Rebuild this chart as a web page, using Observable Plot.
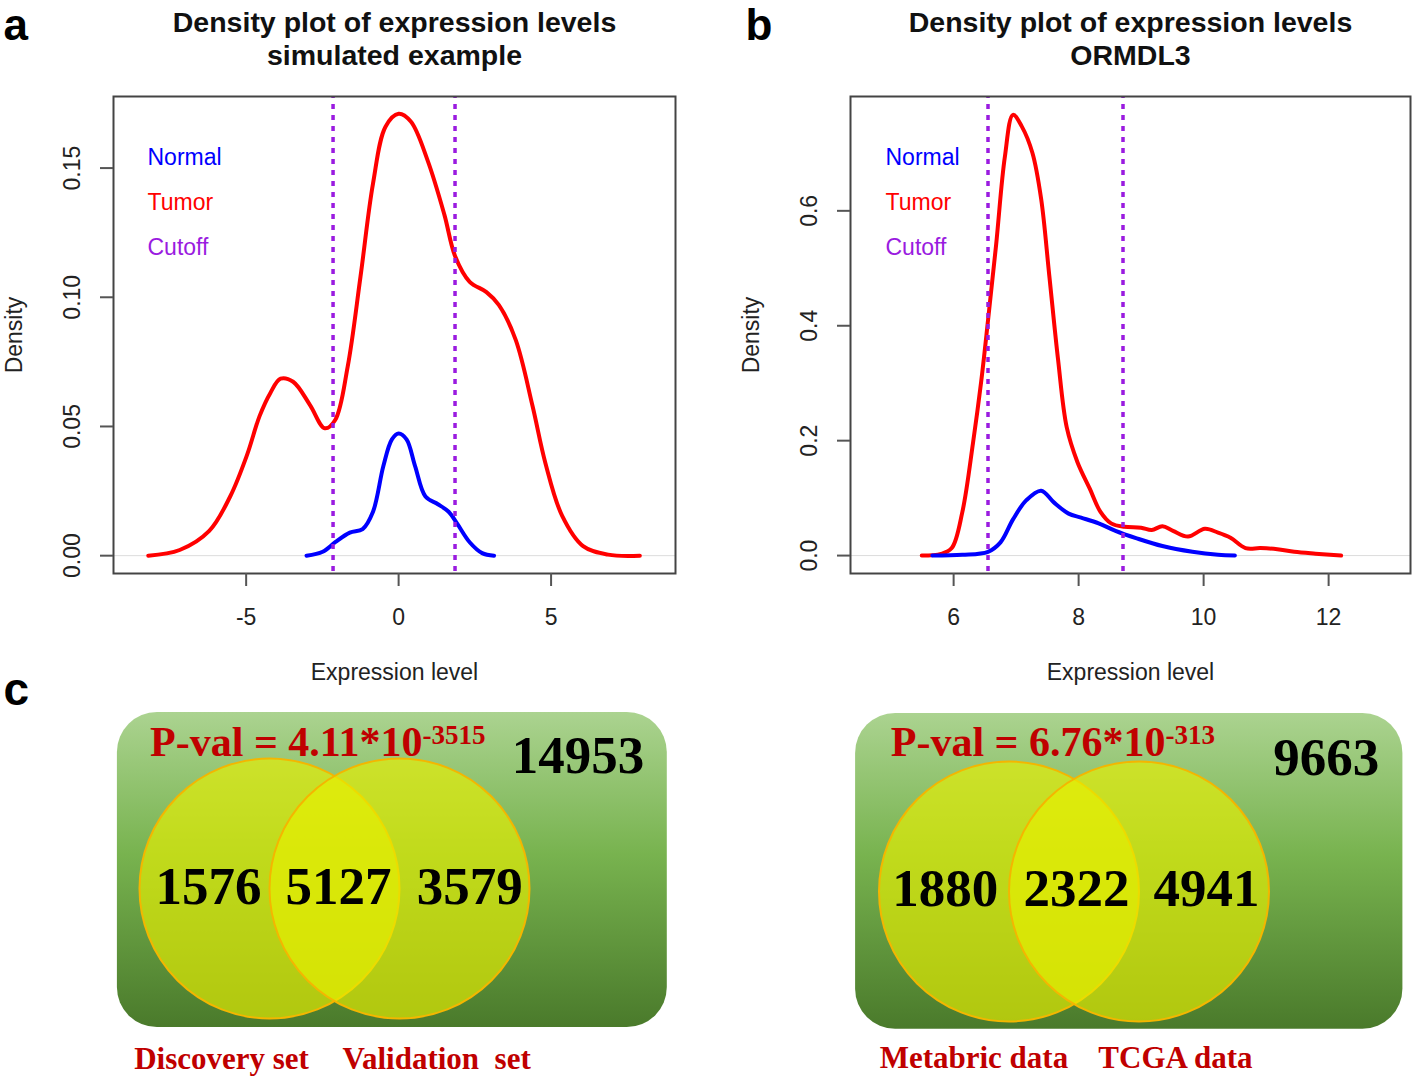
<!DOCTYPE html>
<html>
<head>
<meta charset="utf-8">
<script src="https://cdn.jsdelivr.net/npm/d3@7"></script>
<script src="https://cdn.jsdelivr.net/npm/@observablehq/plot@0.6"></script>
<style>
  html, body { margin: 0; padding: 0; background: #ffffff; }
  #fig { position: relative; width: 1418px; height: 1077px; overflow: hidden; background: #ffffff; }
  #fig svg { position: absolute; }
  #fig svg text { white-space: pre; }
</style>
</head>
<body>
<div id="fig"></div>
<script>
// ---------------- Data ----------------
// Panel a: simulated example
const simTumorX = [-8.21,-7.18,-6.21,-5.52,-4.97,-4.56,-4.21,-3.87,-3.46,-2.91,-2.42,-2.08,-1.67,-1.25,-0.84,-0.43,0,0.40,0.95,1.50,1.85,2.33,2.88,3.29,3.84,4.39,4.81,5.36,6.05,6.87,7.91];
const simTumorY = [0,0.0022,0.0096,0.023,0.039,0.054,0.0629,0.0685,0.0673,0.0584,0.0493,0.0525,0.0732,0.108,0.144,0.166,0.171,0.168,0.153,0.132,0.116,0.106,0.102,0.097,0.0835,0.058,0.036,0.0155,0.0037,0.0004,0];
const simNormalX = [-3.02,-2.49,-2.08,-1.60,-1.18,-0.84,-0.50,-0.22,0,0.26,0.54,0.88,1.29,1.64,1.91,2.33,2.74,3.13];
const simNormalY = [0,0.0015,0.0052,0.0089,0.0103,0.017,0.0347,0.045,0.0473,0.045,0.0347,0.0229,0.0199,0.017,0.0126,0.0052,0.001,0];
const simCutoffs = [-2.15, 1.85];
const simXTicks = [-5, 0, 5];
const simYTicks = [0, 0.05, 0.10, 0.15];

// Panel b: ORMDL3
const ormTumorX = [5.49,5.80,5.97,6.14,6.31,6.44,6.55,6.68,6.82,6.95,7.09,7.26,7.40,7.53,7.67,7.81,7.98,8.18,8.35,8.52,8.73,9.00,9.17,9.34,9.51,9.75,10.02,10.23,10.43,10.67,10.91,11.18,11.45,11.79,12.2];
const ormTumorY = [0,0.003,0.013,0.076,0.196,0.302,0.409,0.541,0.694,0.767,0.747,0.701,0.621,0.488,0.342,0.223,0.163,0.116,0.076,0.056,0.050,0.0485,0.0445,0.051,0.043,0.033,0.0465,0.040,0.031,0.013,0.013,0.011,0.0066,0.0033,0];
const ormNormalX = [5.66,6.14,6.55,6.75,6.95,7.16,7.40,7.60,7.84,8.04,8.32,8.59,8.93,9.34,9.82,10.23,10.50];
const ormNormalY = [0,0.0013,0.0066,0.023,0.063,0.096,0.113,0.093,0.073,0.066,0.056,0.043,0.030,0.0166,0.0066,0.0013,0];
const ormCutoffs = [6.55, 8.71];
const ormXTicks = [6, 8, 10, 12];
const ormYTicks = [0, 0.2, 0.4, 0.6];

const legendLabels = ["Normal", "Tumor", "Cutoff"];
const titleLine1 = "Density plot of expression levels";
const titleA2 = "simulated example";
const titleB2 = "ORMDL3";

// Panel c: Venn diagrams
const vennACounts = [1576, 5127, 3579];
const vennAOutside = 14953;
const vennAPval = ["P-val = 4.11*10", "-3515"];
const vennASets = ["Discovery set", "Validation  set"];

const vennBCounts = [1880, 2322, 4941];
const vennBOutside = 9663;
const vennBPval = ["P-val = 6.76*10", "-313"];
const vennBSets = ["Metabric data", "TCGA data"];

// ---------------- Styles ----------------
const SANS = "'Liberation Sans', Arial, Helvetica, sans-serif";
const SERIF = "'Liberation Serif', 'Times New Roman', serif";
const RED = "#ff0000", BLUE = "#0000ff", PURPLE = "#9a1be0";
const DARKRED = "#c00000";
const fig = document.getElementById("fig");

function place(svg, left, top) {
  svg.style.left = left + "px";
  svg.style.top = top + "px";
  fig.appendChild(svg);
}

function density(o) {
  const tumor = o.tumorX.map((x, i) => ({x, y: o.tumorY[i]}));
  const normal = o.normalX.map((x, i) => ({x, y: o.normalY[i]}));
  const fmt = d3.format(o.yFmt);
  const legendColors = [BLUE, RED, PURPLE];
  return Plot.plot({
    width: o.width, height: 700,
    marginTop: 96, marginBottom: 127, marginLeft: o.ml, marginRight: o.mr,
    style: {fontFamily: SANS, background: "none", overflow: "visible", color: "#222"},
    x: {domain: o.xDomain},
    y: {domain: o.yDomain},
    marks: [
      Plot.ruleY([0], {stroke: "#dcdcdc", strokeWidth: 1}),
      Plot.line(tumor, {x: "x", y: "y", stroke: RED, strokeWidth: 4, curve: "catmull-rom"}),
      Plot.line(normal, {x: "x", y: "y", stroke: BLUE, strokeWidth: 4, curve: "catmull-rom"}),
      Plot.ruleX(o.cutoffs, {stroke: PURPLE, strokeWidth: 3.5, strokeDasharray: "5,6", strokeDashoffset: -8}),
      Plot.frame({stroke: "#444", strokeWidth: 2}),
      Plot.axisX({ticks: o.xTicks, tickSize: 13, tickPadding: 22, fontSize: 23, label: null, stroke: "#555", strokeWidth: 2, tickFormat: d => String(d)}),
      Plot.axisY({ticks: o.yTicks, tickSize: 13, tickFormat: () => "", label: null, stroke: "#555", strokeWidth: 2}),
      Plot.text(o.yTicks, {y: d => d, frameAnchor: "left", dx: -40.5, rotate: -90, text: d => fmt(d), fontSize: 23, lineAnchor: "middle", textAnchor: "middle"}),
      Plot.text(["Density"], {frameAnchor: "left", dx: -99, rotate: -90, text: d => d, fontSize: 23, lineAnchor: "middle", textAnchor: "middle"}),
      Plot.text(["Expression level"], {frameAnchor: "bottom", dy: 99, text: d => d, fontSize: 23, lineAnchor: "middle", textAnchor: "middle"}),
      Plot.text([titleLine1], {frameAnchor: "top", dy: -65, text: d => d, fontSize: 28.5, fontWeight: "bold", lineAnchor: "bottom", textAnchor: "middle", fill: "#111"}),
      Plot.text([o.title2], {frameAnchor: "top", dy: -32, text: d => d, fontSize: 28.5, fontWeight: "bold", lineAnchor: "bottom", textAnchor: "middle", fill: "#111"}),
      ...legendLabels.map((t, i) => Plot.text([t], {frameAnchor: "top-left", dx: o.legendDx, dy: 68 + 45 * i, text: d => d, fontSize: 23, fill: legendColors[i], lineAnchor: "bottom", textAnchor: "start"})),
      Plot.text([o.letter], {frameAnchor: "top-left", dx: o.letterDx, dy: -57, text: d => d, fontSize: 44, fontWeight: "bold", lineAnchor: "bottom", textAnchor: "start", fill: "#000"})
    ]
  });
}

function venn(o) {
  const U = 130;
  const circles = [{cx: -0.5, cy: 0}, {cx: 0.5, cy: 0}];
  const counts = o.counts.map((v, i) => ({v, x: o.countX[i], y: o.countY}));
  const sets = o.sets.map((s, i) => ({s, x: o.setX[i], y: o.setY}));
  const marks = [
    Plot.rect([o.box], {x1: "x1", x2: "x2", y1: "y1", y2: "y2", rx: 40, ry: 40, fill: `url(#${o.id})`}),
    Plot.dot(circles, {x: "cx", y: "cy", r: U, fill: "#e8f000", fillOpacity: 0.65, stroke: "#f4b600", strokeWidth: 2}),
    Plot.text(counts, {x: "x", y: "y", text: d => String(d.v), fontFamily: SERIF, fontWeight: "bold", fontSize: 53, lineAnchor: "bottom", textAnchor: "middle", fill: "#000"}),
    Plot.text([o.outside], {x: o.outX, y: o.outY, text: d => String(d), fontFamily: SERIF, fontWeight: "bold", fontSize: 53, lineAnchor: "bottom", textAnchor: "middle", fill: "#000"}),
    Plot.text([o.pval[0]], {x: o.pX, y: o.pY, text: d => d, fontFamily: SERIF, fontWeight: "bold", fontSize: 42, lineAnchor: "bottom", textAnchor: "end", fill: DARKRED}),
    Plot.text([o.pval[1]], {x: o.pX, y: o.supY, text: d => d, fontFamily: SERIF, fontWeight: "bold", fontSize: 27, lineAnchor: "bottom", textAnchor: "start", fill: DARKRED}),
    Plot.text(sets, {x: "x", y: "y", text: "s", fontFamily: SERIF, fontWeight: "bold", fontSize: 31, lineAnchor: "bottom", textAnchor: "middle", fill: DARKRED})
  ];
  if (o.letter) marks.push(Plot.text([o.letter], {frameAnchor: "top-left", dx: 3, dy: 64, text: d => d, fontFamily: SANS, fontSize: 46, fontWeight: "bold", lineAnchor: "bottom", textAnchor: "start", fill: "#000"}));
  const svg = Plot.plot({
    width: 709, height: 437, margin: 0,
    style: {background: "none", overflow: "visible"},
    x: {domain: [-1, 1], range: [o.ox - U, o.ox + U], axis: null},
    y: {domain: [-1, 1], range: [o.oy - U, o.oy + U], axis: null},
    marks
  });
  d3.select(svg).insert("defs", ":first-child").html(
    `<linearGradient id="${o.id}" x1="0" y1="0" x2="0" y2="1">
       <stop offset="0" stop-color="#abd390"/>
       <stop offset="0.45" stop-color="#78b34f"/>
       <stop offset="1" stop-color="#4a7a2b"/>
     </linearGradient>`);
  return svg;
}

// ---------------- Render ----------------
place(density({
  tumorX: simTumorX, tumorY: simTumorY, normalX: simNormalX, normalY: simNormalY,
  cutoffs: simCutoffs, xTicks: simXTicks, yTicks: simYTicks, yFmt: ".2f",
  xDomain: [-9.35, 9.08], yDomain: [-0.0069, 0.1777],
  width: 705, ml: 113, mr: 30, legendDx: 34, letterDx: -110, letter: "a", title2: titleA2
}), 0, 0);

place(density({
  tumorX: ormTumorX, tumorY: ormTumorY, normalX: ormNormalX, normalY: ormNormalY,
  cutoffs: ormCutoffs, xTicks: ormXTicks, yTicks: ormYTicks, yFmt: ".1f",
  xDomain: [4.35, 13.31], yDomain: [-0.0312, 0.799],
  width: 713, ml: 145, mr: 8, legendDx: 35, letterDx: -105, letter: "b", title2: titleB2
}), 705, 0);

place(venn({
  id: "gradA", ox: 334, oy: 248, letter: "c",
  box: {x1: -1.67, x2: 2.56, y1: -1.354, y2: 1.07},
  counts: vennACounts, countX: [-0.97, 0.03, 1.04], countY: 0.123,
  outside: vennAOutside, outX: 1.873, outY: -0.885,
  pval: vennAPval, pX: 0.677, pY: -1.023, supY: -1.115,
  sets: vennASets, setX: [-0.869, 0.785], setY: 1.385
}), 0, 640);

place(venn({
  id: "gradB", ox: 364.5, oy: 251,
  box: {x1: -1.68, x2: 2.53, y1: -1.37, y2: 1.06},
  counts: vennBCounts, countX: [-0.99, 0.02, 1.02], countY: 0.115,
  outside: vennBOutside, outX: 1.94, outY: -0.9,
  pval: vennBPval, pX: 0.704, pY: -1.046, supY: -1.138,
  sets: vennBSets, setX: [-0.77, 0.78], setY: 1.354
}), 709, 640);
</script>
</body>
</html>
